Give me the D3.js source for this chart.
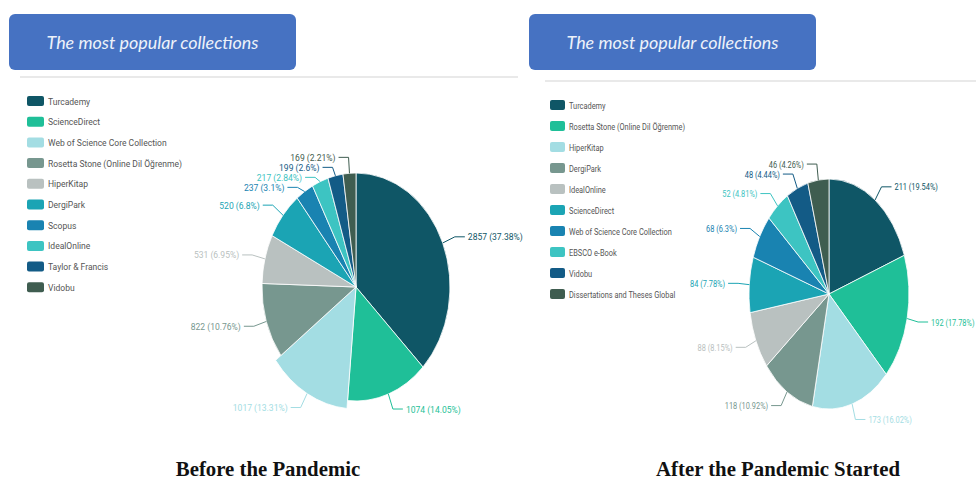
<!DOCTYPE html>
<html>
<head>
<meta charset="utf-8">
<script src="https://cdn.jsdelivr.net/npm/d3@7"></script>
<style>
  body { margin: 0; background: #fff; }
  svg { display: block; }
</style>
</head>
<body>
<div id="chart"></div>
<script>
// Values
var beforeNames = ['Turcademy', 'ScienceDirect', 'Web of Science Core Collection',
  'Rosetta Stone (Online Dil Öğrenme)', 'HiperKitap', 'DergiPark', 'Scopus',
  'IdealOnline', 'Taylor & Francis', 'Vidobu'];
var beforeValues = [2857, 1074, 1017, 822, 531, 520, 237, 217, 199, 169];
var beforePercents = ['37.38', '14.05', '13.31', '10.76', '6.95', '6.8', '3.1', '2.84', '2.6', '2.21'];

var afterNames = ['Turcademy', 'Rosetta Stone (Online Dil Öğrenme)', 'HiperKitap',
  'DergiPark', 'IdealOnline', 'ScienceDirect', 'Web of Science Core Collection',
  'EBSCO e-Book', 'Vidobu', 'Dissertations and Theses Global'];
var afterValues = [211, 192, 173, 118, 88, 84, 68, 52, 48, 46];
var afterPercents = ['19.54', '17.78', '16.02', '10.92', '8.15', '7.78', '6.3', '4.81', '4.44', '4.26'];

var sliceColors = ['#0f5666', '#1fbf98', '#a3dde3', '#77978f', '#b9c1c0',
  '#1ba4b4', '#1983b1', '#3dc4c2', '#135b86', '#3f5d50'];

var headerTitle = 'The most popular collections';
var captions = ['Before the Pandemic', 'After the Pandemic Started'];

var width = 976, height = 479;

var svg = d3.select('#chart').append('svg')
  .attr('width', width)
  .attr('height', height);

// small text squeezed horizontally like the screenshot it came from
var smallText = function(parent, x, y, squeeze, anchor) {
  return parent.append('text')
    .attr('transform', 'translate(' + x + ',' + y + ') scale(' + squeeze + ',1)')
    .attr('text-anchor', anchor || 'start')
    .attr('font-family', 'Roboto, sans-serif')
    .attr('font-size', 9.5);
};

// one panel = header box + legend + elliptical pie + caption
var drawPanel = function(cfg) {
  var names = cfg.names, values = cfg.values;

  // header
  svg.append('rect')
    .attr('x', cfg.box[0]).attr('y', 14)
    .attr('width', cfg.box[1]).attr('height', 56)
    .attr('rx', 6)
    .attr('fill', '#4672c2');
  svg.append('text')
    .attr('x', cfg.box[0] + cfg.box[1] / 2)
    .attr('y', 49)
    .attr('text-anchor', 'middle')
    .attr('font-family', 'Lato, "Open Sans", sans-serif')
    .attr('font-style', 'italic')
    .attr('font-size', 17.5)
    .attr('textLength', 212)
    .attr('lengthAdjust', 'spacingAndGlyphs')
    .attr('fill', '#eef2fa')
    .text(headerTitle);

  svg.append('line')
    .attr('x1', cfg.rule[0]).attr('x2', cfg.rule[1])
    .attr('y1', cfg.rule[2]).attr('y2', cfg.rule[2])
    .attr('stroke', '#e2e2e2')
    .attr('stroke-width', 1.5);

  // legend
  var legend = svg.append('g')
    .attr('transform', 'translate(' + cfg.legend[0] + ',' + cfg.legend[1] + ')');
  names.forEach(function(name, i) {
    var y = i * cfg.legend[2];
    legend.append('rect')
      .attr('x', 0).attr('y', y - 5)
      .attr('width', cfg.swatch).attr('height', 10)
      .attr('rx', 2)
      .attr('fill', sliceColors[i]);
    smallText(legend, cfg.swatch + 4, y + 3.5, cfg.squeeze)
      .attr('fill', '#555')
      .text(name);
  });

  // pie, drawn as a circle squeezed horizontally
  var cx = cfg.center[0], cy = cfg.center[1];
  var rx = cfg.radius[0], ry = cfg.radius[1];

  var arcs = d3.pie().sort(null).value(function(d) { return d; })(values);
  var arc = d3.arc().innerRadius(0);

  var pieG = svg.append('g')
    .attr('transform', 'translate(' + cx + ',' + cy + ') scale(' + (rx / ry) + ',1)');

  pieG.selectAll('path')
    .data(arcs)
    .enter().append('path')
    .attr('d', function(d, i) {
      return arc.outerRadius(i === cfg.exploded ? ry * 1.07 : ry)(d);
    })
    .attr('fill', function(d, i) { return sliceColors[i]; })
    .attr('stroke', '#fff')
    .attr('stroke-width', 0.8)
    .attr('vector-effect', 'non-scaling-stroke');

  // outside labels with leader lines
  var k = 1.14;
  var labels = arcs.map(function(d, i) {
    var a = (d.startAngle + d.endAngle) / 2;
    var r = i === cfg.exploded ? 1.07 : 1;
    return {
      i: i,
      side: Math.sin(a) < 0 ? -1 : 1,
      x0: cx + rx * r * Math.sin(a),
      y0: cy - ry * r * Math.cos(a),
      x1: cx + rx * (k + r - 1) * Math.sin(a),
      y1: cy - ry * (k + r - 1) * Math.cos(a)
    };
  });

  // keep labels on each side at least 10px apart
  [-1, 1].forEach(function(side) {
    var sideLabels = labels.filter(function(l) { return l.side === side; })
      .sort(function(a, b) { return a.y1 - b.y1; });
    for (var j = 1; j < sideLabels.length; j++) {
      if (sideLabels[j].y1 < sideLabels[j - 1].y1 + 10) {
        sideLabels[j].y1 = sideLabels[j - 1].y1 + 10;
      }
    }
  });

  var labelG = svg.append('g');
  labels.forEach(function(l) {
    var col = sliceColors[l.i];
    var x2 = l.x1 + l.side * 10;
    labelG.append('polyline')
      .attr('points', [[l.x0, l.y0], [l.x1, l.y1], [x2, l.y1]].join(' '))
      .attr('fill', 'none')
      .attr('stroke', col)
      .attr('stroke-width', 1);
    smallText(labelG, x2 + l.side * 3, l.y1 + 3.5, cfg.squeeze, l.side < 0 ? 'end' : 'start')
      .attr('fill', col)
      .text(values[l.i] + ' (' + cfg.percents[l.i] + '%)');
  });

  // caption
  svg.append('text')
    .attr('x', cfg.caption[0])
    .attr('y', 476)
    .attr('text-anchor', 'middle')
    .attr('font-family', '"Liberation Serif", "Times New Roman", serif')
    .attr('font-weight', 'bold')
    .attr('font-size', 20.8)
    .attr('fill', '#111')
    .text(cfg.caption[1]);
};

drawPanel({
  names: beforeNames,
  values: beforeValues,
  percents: beforePercents,
  squeeze: 0.9,
  swatch: 17,
  box: [9, 287],
  rule: [20, 518, 77],
  legend: [27, 101, 20.7],
  center: [356, 287],
  radius: [94, 114],
  exploded: 2,
  caption: [268, captions[0]]
});

drawPanel({
  names: afterNames,
  values: afterValues,
  percents: afterPercents,
  squeeze: 0.78,
  swatch: 15,
  box: [529, 287],
  rule: [545, 976, 81],
  legend: [550, 105, 21],
  center: [829, 294],
  radius: [80, 115],
  exploded: -1,
  caption: [778, captions[1]]
});
</script>
</body>
</html>
